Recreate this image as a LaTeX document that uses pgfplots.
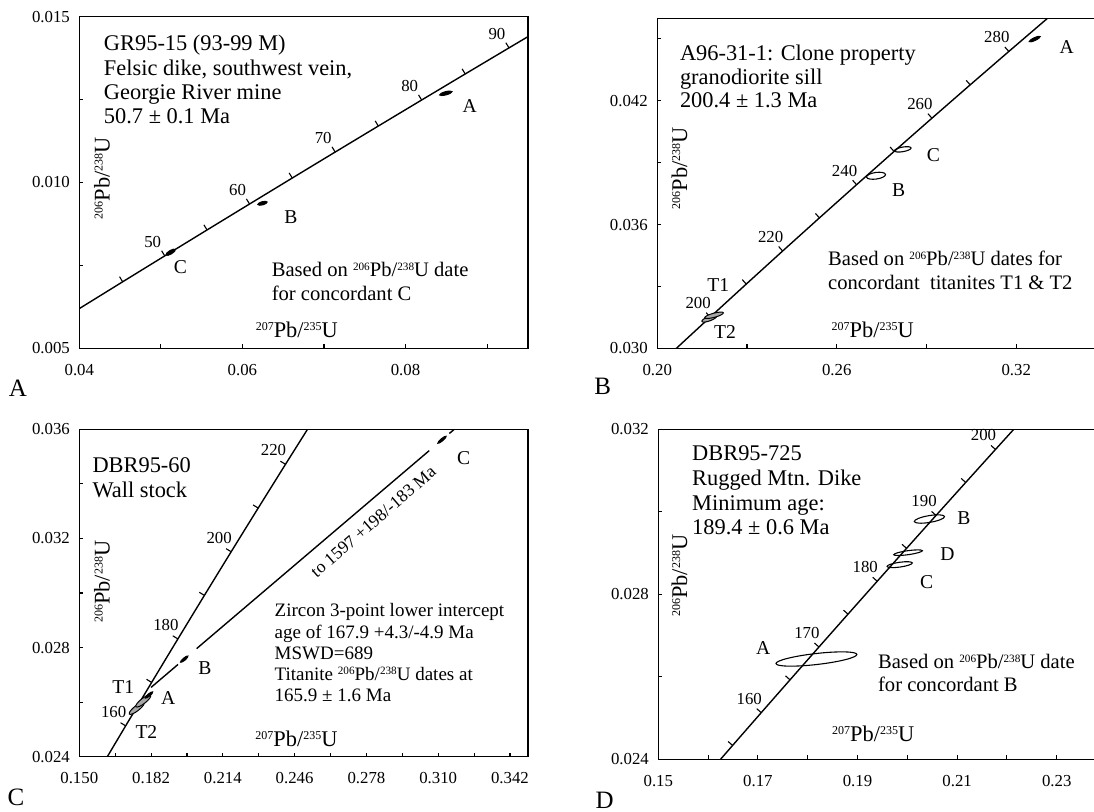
\documentclass[border=0pt]{standalone}
\usepackage{fontspec}
\setmainfont{Liberation Serif}
\usepackage{pgfplots}
\pgfplotsset{compat=1.18}

\pgfdeclareplotmark{ctick}{%
  \pgfpathmoveto{\pgfqpoint{0pt}{0pt}}%
  \pgfpathlineto{\pgfqpoint{0pt}{\pgfplotmarksize}}%
  \pgfusepathqstroke}

\newcommand\sps[1]{\raisebox{3.1pt}{\fontsize{5.6}{6}\selectfont #1}}
\newcommand\spl[1]{\raisebox{3.5pt}{\fontsize{6}{6}\selectfont #1}}
\newcommand\fA{\fontsize{11.2}{13}\selectfont}
\newcommand\fB{\fontsize{10.3}{12}\selectfont}
\newcommand\fC{\fontsize{9.5}{11}\selectfont}
\newcommand\fT{\fontsize{8.4}{10}\selectfont}
\newcommand\fL{\fontsize{11.2}{13}\selectfont}
\newcommand\fP{\fontsize{12.5}{14}\selectfont}
\newcommand\fD{\fontsize{9.8}{12}\selectfont}
\newcommand\fX{\fontsize{8.8}{10}\selectfont}

\pgfplotsset{
  cc/.style={
    scale only axis, anchor=south west, clip=true,
    axis line style={line width=0.7pt, black},
    tick align=inside, major tick length=2pt,
    every tick/.style={black, line width=0.55pt},
    tick pos=left,
    scaled ticks=false,
    ticklabel style={font=\fT},
    xticklabel style={yshift=-4.5pt},
    yticklabel style={xshift=-1.2pt},
  },
  conc/.style={black, line width=0.7pt, mark=none},
  ctk/.style={only marks, mark=ctick, mark size=3pt,
     mark options={rotate=#1, line width=0.55pt, solid, black}},
  clab/.style={draw=none, mark=none, nodes near coords, point meta=explicit symbolic,
     every node near coord/.style={font=\fT, anchor=center, xshift=-6pt, yshift=7pt, inner sep=0pt}},
  ellf/.style n args={4}{only marks, mark=*, mark size=#1,
     mark options={rotate=#2, xscale=#3, fill=#4, draw=black, line width=0.5pt, solid}},
  ello/.style n args={3}{only marks, mark=o, mark size=#1,
     mark options={rotate=#2, xscale=#3, draw=black, line width=0.55pt, solid}},
}

\begin{document}
\begin{tikzpicture}
\useasboundingbox (0,0) rectangle (547pt,406pt);
\clip (0,0) rectangle (547pt,406pt);

% ---------------- Panel A ----------------
\begin{axis}[cc, at={(39.65pt,231.85pt)}, width=224.3pt, height=165.8pt,
  xmin=0.04, xmax=0.095, ymin=0.005, ymax=0.015,
  xtick={0.04,0.05,0.06,0.07,0.08,0.09}, xticklabels={0.04,,0.06,,0.08,},
  ytick={0.005,0.0075,0.01,0.0125,0.015}, yticklabels={0.005,,0.010,,0.015}]
\addplot[conc] coordinates {(0.0350707,0.0054442) (0.0401812,0.0062243) (0.0453150,0.0070050) (0.0504751,0.0077864) (0.0556606,0.0085684) (0.0608719,0.0093509) (0.0661087,0.0101341) (0.0713714,0.0109179) (0.0766601,0.0117023) (0.0819749,0.0124873) (0.0873160,0.0132729) (0.0926834,0.0140592) (0.0980773,0.0148460)};
\addplot[ctk=31.2] coordinates {(0.0453150,0.0070050) (0.0504751,0.0077864) (0.0556606,0.0085684) (0.0608719,0.0093509) (0.0661087,0.0101341) (0.0713714,0.0109179) (0.0766601,0.0117023) (0.0819749,0.0124873) (0.0873160,0.0132729) (0.0926834,0.0140592)};
\addplot[clab] coordinates {(0.0504751,0.0077864)[50] (0.0608719,0.0093509)[60] (0.0713714,0.0109179)[70] (0.0819749,0.0124873)[80] (0.0926834,0.0140592)[90]};
\addplot[ellf={0.8pt}{15}{4}{black}] coordinates {(0.08493,0.01269)};
\addplot[ellf={0.8pt}{15}{3}{black}] coordinates {(0.06246,0.009373)};
\addplot[ellf={0.9pt}{31}{3}{black}] coordinates {(0.05120,0.007896)};
\end{axis}

% ---------------- Panel B ----------------
\begin{axis}[cc, at={(328.6pt,231.85pt)}, width=239.35pt, height=165pt,
  xmin=0.20, xmax=0.36, ymin=0.030, ymax=0.046,
  xtick={0.20,0.23,0.26,0.29,0.32,0.35}, xticklabels={0.20,,0.26,,0.32,},
  ytick={0.030,0.033,0.036,0.039,0.042,0.045}, yticklabels={0.030,,0.036,,0.042,}]
\addplot[conc] coordinates {(0.199851,0.0291139) (0.205773,0.0299124) (0.217707,0.0315113) (0.229760,0.0331127) (0.241930,0.0347165) (0.254222,0.0363229) (0.266636,0.0379317) (0.279171,0.0395431) (0.291831,0.0411569) (0.304616,0.0427733) (0.317528,0.0443921) (0.330568,0.0460135) (0.337137,0.0468251)};
\addplot[ctk=41.7] coordinates {(0.217707,0.0315113) (0.229760,0.0331127) (0.241930,0.0347165) (0.254222,0.0363229) (0.266636,0.0379317) (0.279171,0.0395431) (0.291831,0.0411569) (0.304616,0.0427733) (0.317528,0.0443921)};
\addplot[clab] coordinates {(0.217707,0.0315113)[200] (0.241930,0.0347165)[220] (0.266636,0.0379317)[240] (0.291831,0.0411569)[260] (0.317528,0.0443921)[280]};
\addplot[ellf={0.7pt}{25}{4.3}{black}] coordinates {(0.32618,0.044991)};
\addplot[ello={1.15pt}{10}{3.65}] coordinates {(0.28209,0.039645)};
\addplot[ello={1.65pt}{8}{2.9}] coordinates {(0.27314,0.038365)};
\addplot[ellf={1.1pt}{20}{3.6}{black!35}] coordinates {(0.21742,0.031435)};
\addplot[ellf={1.05pt}{15}{4.6}{black!35}] coordinates {(0.21899,0.031600)};
\end{axis}

% ---------------- Panel C ----------------
\begin{axis}[cc, at={(39.65pt,27.65pt)}, width=224.3pt, height=163.7pt,
  xmin=0.150, xmax=0.350, ymin=0.024, ymax=0.036,
  xtick={0.150,0.166,0.182,0.198,0.214,0.230,0.246,0.262,0.278,0.294,0.310,0.326,0.342},
  xticklabels={0.150,,0.182,,0.214,,0.246,,0.278,,0.310,,0.342},
  ytick={0.024,0.026,0.028,0.030,0.032,0.034,0.036}, yticklabels={0.024,,0.028,,0.032,,0.036}]
\addplot[conc] coordinates {(0.159197,0.0235416) (0.164919,0.0243358) (0.170670,0.0251306) (0.176449,0.0259260) (0.182256,0.0267221) (0.188092,0.0275187) (0.193957,0.0283160) (0.199851,0.0291139) (0.205773,0.0299124) (0.211726,0.0307115) (0.217707,0.0315113) (0.223719,0.0323117) (0.229760,0.0331127) (0.241930,0.0347165) (0.254222,0.0363229)};
\addplot[ctk=58.6] coordinates {(0.170670,0.0251306) (0.182256,0.0267221) (0.193957,0.0283160) (0.205773,0.0299124) (0.217707,0.0315113) (0.229760,0.0331127) (0.241930,0.0347165)};
\addplot[clab] coordinates {(0.170670,0.0251306)[160] (0.193957,0.0283160)[180] (0.217707,0.0315113)[200] (0.241930,0.0347165)[220]};
% discordia
\addplot[conc] coordinates {(0.1820,0.026540) (0.1940,0.027380)};
\addplot[conc] coordinates {(0.2023,0.027961) (0.3060,0.035217)};
\addplot[conc] coordinates {(0.3150,0.035847) (0.3200,0.036197)};
\addplot[ellf={1.3pt}{38}{3.6}{black!35}] coordinates {(0.17560,0.025773)};
\addplot[ellf={1.3pt}{38}{3.6}{black!35}] coordinates {(0.17853,0.026042)};
\addplot[ellf={0.6pt}{40}{4}{black}] coordinates {(0.18107,0.026261)};
\addplot[ellf={0.6pt}{40}{4}{black}] coordinates {(0.19680,0.027576)};
\addplot[ellf={0.6pt}{40}{4.5}{black}] coordinates {(0.31170,0.035616)};
\end{axis}

% ---------------- Panel D ----------------
\begin{axis}[cc, at={(329.15pt,26.35pt)}, width=249pt, height=165pt,
  xmin=0.15, xmax=0.25, ymin=0.024, ymax=0.032,
  xtick={0.15,0.16,0.17,0.18,0.19,0.20,0.21,0.22,0.23,0.24},
  xticklabels={0.15,,0.17,,0.19,,0.21,,0.23,},
  ytick={0.024,0.026,0.028,0.030,0.032}, yticklabels={0.024,,0.028,,0.032}]
\addplot[conc] coordinates {(0.159197,0.0235416) (0.164919,0.0243358) (0.170670,0.0251306) (0.176449,0.0259260) (0.182256,0.0267221) (0.188092,0.0275187) (0.193957,0.0283160) (0.199851,0.0291139) (0.205773,0.0299124) (0.211726,0.0307115) (0.217707,0.0315113) (0.223719,0.0323117)};
\addplot[ctk=48.4] coordinates {(0.164919,0.0243358) (0.170670,0.0251306) (0.176449,0.0259260) (0.182256,0.0267221) (0.188092,0.0275187) (0.193957,0.0283160) (0.199851,0.0291139) (0.205773,0.0299124) (0.211726,0.0307115) (0.217707,0.0315113)};
\addplot[clab] coordinates {(0.170670,0.0251306)[160] (0.182256,0.0267221)[170] (0.193957,0.0283160)[180] (0.205773,0.0299124)[190] (0.217707,0.0315113)[200]};
\addplot[ello={2.75pt}{6.5}{7.4}] coordinates {(0.18175,0.026431)};
\addplot[ello={1.7pt}{9.5}{4.5}] coordinates {(0.20444,0.029825)};
\addplot[ello={1pt}{8}{7.2}] coordinates {(0.20016,0.029009)};
\addplot[ello={1.2pt}{8}{5.3}] coordinates {(0.19847,0.028718)};
\end{axis}

% ---------------- Text (pixel coordinates, origin top-left) ----------------
\begin{scope}[x=0.5pt, y=-0.5pt, shift={(0pt,406pt)},
   tx/.style={anchor=base west, inner sep=0pt}, ct/.style={inner sep=0pt, anchor=center}]
% Panel A
\node[tx, font=\fA] at (103.6,51.0) {GR95-15 (93-99 M)};
\node[tx, font=\fA] at (103.6,75.2) {Felsic dike, southwest vein,};
\node[tx, font=\fA] at (103.6,99.4) {Georgie River mine};
\node[tx, font=\fA] at (103.6,123.6) {50.7 ± 0.1 Ma};
\node[tx, font=\fB] at (271.4,276.8) {Based on \sps{206}Pb/\sps{238}U date};
\node[tx, font=\fB] at (271.4,300.1) {for concordant C};
\node[anchor=base, inner sep=0pt, font=\fL] at (296.8,337.3) {\spl{207}Pb/\spl{235}U};
\node[anchor=base, inner sep=0pt, font=\fL, rotate=90] at (109.5,178.3) {\spl{206}Pb/\spl{238}U};
\node[ct, font=\fD] at (469.6,106) {A};
\node[ct, font=\fD] at (291,216.7) {B};
\node[ct, font=\fD] at (180.4,266.7) {C};
\node[ct, font=\fP] at (17.9,388.3) {A};
% Panel B
\node[tx, font=\fA] at (679.6,60.7) {A96-31-1: Clone property};
\node[tx, font=\fA] at (679.6,84.1) {granodiorite sill};
\node[tx, font=\fA] at (679.6,107.7) {200.4 ± 1.3 Ma};
\node[tx, font=\fB] at (827.8,266) {Based on \sps{206}Pb/\sps{238}U dates for};
\node[tx, font=\fB] at (827.8,290) {concordant\ \ titanites T1 \& T2};
\node[anchor=base, inner sep=0pt, font=\fL] at (872.7,337.3) {\spl{207}Pb/\spl{235}U};
\node[anchor=base, inner sep=0pt, font=\fL, rotate=90] at (687,168.3) {\spl{206}Pb/\spl{238}U};
\node[ct, font=\fD] at (1066.8,46.7) {A};
\node[ct, font=\fD] at (933.5,155) {C};
\node[ct, font=\fD] at (898.6,190) {B};
\node[ct, font=\fD] at (718.3,285) {T1};
\node[ct, font=\fD] at (725,331.7) {T2};
\node[ct, font=\fP] at (602.8,386.7) {B};
% Panel C
\node[tx, font=\fA] at (92.1,472.9) {DBR95-60};
\node[tx, font=\fA] at (92.1,497.4) {Wall stock};
\node[tx, font=\fC] at (274.3,617.0) {Zircon 3-point lower intercept};
\node[tx, font=\fC] at (274.3,638.1) {age of 167.9 +4.3/-4.9 Ma};
\node[tx, font=\fC] at (274.3,659.2) {MSWD=689};
\node[tx, font=\fC] at (274.3,680.3) {Titanite \sps{206}Pb/\sps{238}U dates at};
\node[tx, font=\fC] at (274.3,701.4) {165.9 ± 1.6 Ma};
\node[anchor=base, inner sep=0pt, font=\fL] at (296.4,747) {\spl{207}Pb/\spl{235}U};
\node[anchor=base, inner sep=0pt, font=\fL, rotate=90] at (109.5,581.7) {\spl{206}Pb/\spl{238}U};
\node[ct, font=\fX, rotate=41] at (373.2,521.7) {to 1597 +198/-183 Ma};
\node[ct, font=\fD] at (123.3,686.7) {T1};
\node[ct, font=\fD] at (168.3,698.3) {A};
\node[ct, font=\fD] at (205,668.3) {B};
\node[ct, font=\fD] at (146.4,731.7) {T2};
\node[ct, font=\fD] at (463.6,458.3) {C};
\node[ct, font=\fP] at (16,797.5) {C};
% Panel D
\node[tx, font=\fA] at (691.8,461.0) {DBR95-725};
\node[tx, font=\fA] at (691.8,485.7) {Rugged Mtn. Dike};
\node[tx, font=\fA] at (691.8,510.7) {Minimum age:};
\node[tx, font=\fA] at (691.8,534.4) {189.4 ± 0.6 Ma};
\node[tx, font=\fB] at (877.7,668.5) {Based on \sps{206}Pb/\sps{238}U date};
\node[tx, font=\fB] at (877.7,691.8) {for concordant B};
\node[anchor=base, inner sep=0pt, font=\fL] at (873.2,742) {\spl{207}Pb/\spl{235}U};
\node[anchor=base, inner sep=0pt, font=\fL, rotate=90] at (687,575.8) {\spl{206}Pb/\spl{238}U};
\node[ct, font=\fD] at (763.3,648.3) {A};
\node[ct, font=\fD] at (963.9,518.3) {B};
\node[ct, font=\fD] at (947.5,554.3) {D};
\node[ct, font=\fD] at (926.6,581.7) {C};
\node[ct, font=\fP] at (604.6,800.5) {D};
\end{scope}
\end{tikzpicture}
\end{document}
